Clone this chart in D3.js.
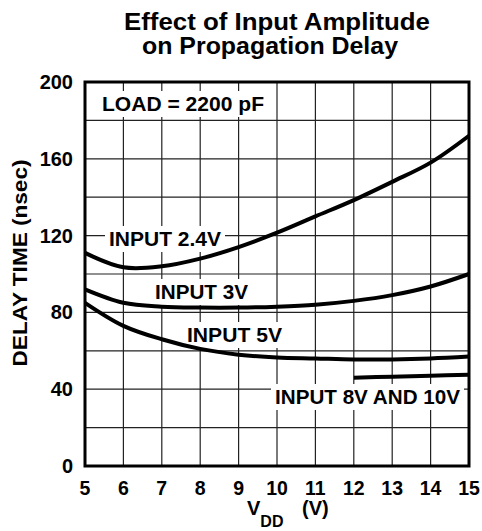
<!DOCTYPE html>
<html>
<head>
<meta charset="utf-8">
<script src="https://cdn.jsdelivr.net/npm/d3@7"></script>
<style>
  body { margin: 0; background: #fff; }
  text { font-family: "Liberation Sans", Arial, sans-serif; font-weight: bold; fill: #000; }
</style>
</head>
<body>
<div class="chart"></div>
<script>
// Parameters
const width = 482;
const height = 531;
const margin = { top: 82, right: 13, bottom: 65, left: 85 };

// data
const vdd = [5, 6, 7, 8, 9, 10, 11, 12, 13, 14, 15];
const input24 = [111, 103.5, 104, 108, 114, 121.5, 130, 138.5, 148, 158, 172];
const input3 = [92, 85, 83, 82.5, 82.5, 83, 84, 86, 89, 93.5, 100];
const input5 = [85, 73, 66, 61, 58, 56.5, 56, 55.5, 55.5, 56, 57];
const vdd810 = [12, 13, 14, 15];
const input810 = [46, 46.5, 47, 47.5];

const xTicks = [5, 6, 7, 8, 9, 10, 11, 12, 13, 14, 15];
const yTicks = [0, 40, 80, 120, 160, 200];
const yGrid = [20, 40, 60, 80, 100, 120, 140, 160, 180];

const svg = d3.select('.chart')
    .append('svg')
    .attr('width', width)
    .attr('height', height);

const x = d3.scaleLinear().domain([5, 15]).range([margin.left, width - margin.right]);
const y = d3.scaleLinear().domain([0, 200]).range([height - margin.bottom, margin.top]);

// grid
svg.append('g')
    .selectAll('line')
    .data(xTicks.slice(1, -1))
    .join('line')
    .attr('x1', d => x(d)).attr('x2', d => x(d))
    .attr('y1', y(200)).attr('y2', y(0))
    .attr('stroke', '#222').attr('stroke-width', 1.2);

svg.append('g')
    .selectAll('line')
    .data(yGrid)
    .join('line')
    .attr('x1', x(5)).attr('x2', x(15))
    .attr('y1', d => y(d)).attr('y2', d => y(d))
    .attr('stroke', '#222').attr('stroke-width', 1.2);

// label boxes (white, cover grid)
const labels = [
    { text: 'LOAD = 2200 pF', x: 102, y: 111, len: 162 },
    { text: 'INPUT 2.4V', x: 109, y: 246, len: 112 },
    { text: 'INPUT 3V', x: 155, y: 299, len: 93 },
    { text: 'INPUT 5V', x: 187, y: 342, len: 95 },
    { text: 'INPUT 8V AND 10V', x: 275, y: 404, len: 185 }
];

const labelG = svg.append('g');
labels.forEach(l => {
    labelG.append('text')
        .attr('x', l.x).attr('y', l.y)
        .attr('font-size', 20.5)
        .attr('textLength', l.len)
        .attr('lengthAdjust', 'spacingAndGlyphs')
        .text(l.text);
    labelG.insert('rect', 'text')
        .attr('x', l.x - 4).attr('y', l.y - 20)
        .attr('width', l.len + 8).attr('height', 26)
        .attr('fill', '#fff');
});

// curves
const line = d3.line()
    .x(d => x(d[0]))
    .y(d => y(d[1]))
    .curve(d3.curveCatmullRom.alpha(0.5));

const series = [
    d3.zip(vdd, input24),
    d3.zip(vdd, input3),
    d3.zip(vdd, input5),
    d3.zip(vdd810, input810)
];

svg.append('g')
    .selectAll('path')
    .data(series)
    .join('path')
    .attr('d', line)
    .attr('fill', 'none')
    .attr('stroke', '#000')
    .attr('stroke-width', 4);

// frame
svg.append('rect')
    .attr('x', x(5)).attr('y', y(200))
    .attr('width', x(15) - x(5)).attr('height', y(0) - y(200))
    .attr('fill', 'none').attr('stroke', '#000').attr('stroke-width', 3);

// tick labels
svg.append('g')
    .attr('text-anchor', 'end')
    .selectAll('text')
    .data(yTicks)
    .join('text')
    .attr('x', 73)
    .attr('y', d => y(d) + 7)
    .attr('font-size', 20)
    .text(d => d);

svg.append('g')
    .attr('text-anchor', 'middle')
    .selectAll('text')
    .data(xTicks)
    .join('text')
    .attr('x', d => x(d))
    .attr('y', 495)
    .attr('font-size', 19.5)
    .text(d => d);

// axis titles
const xt = svg.append('text')
    .attr('x', 247).attr('y', 515)
    .attr('font-size', 20);
xt.append('tspan').text('V');
xt.append('tspan').attr('font-size', 16).attr('dy', 12).text('DD');
xt.append('tspan').attr('x', 302).attr('y', 515).text('(V)');

svg.append('text')
    .attr('transform', `translate(27, 263) rotate(-90)`)
    .attr('text-anchor', 'middle')
    .attr('font-size', 21)
    .attr('textLength', 207)
    .attr('lengthAdjust', 'spacingAndGlyphs')
    .text('DELAY TIME (nsec)');

// title
const titles = [
    { text: 'Effect of Input Amplitude', x: 277, y: 30, len: 306 },
    { text: 'on Propagation Delay', x: 270, y: 54, len: 256 }
];
svg.append('g')
    .attr('text-anchor', 'middle')
    .selectAll('text')
    .data(titles)
    .join('text')
    .attr('x', d => d.x)
    .attr('y', d => d.y)
    .attr('font-size', 23)
    .attr('textLength', d => d.len)
    .attr('lengthAdjust', 'spacingAndGlyphs')
    .text(d => d.text);
</script>
</body>
</html>
